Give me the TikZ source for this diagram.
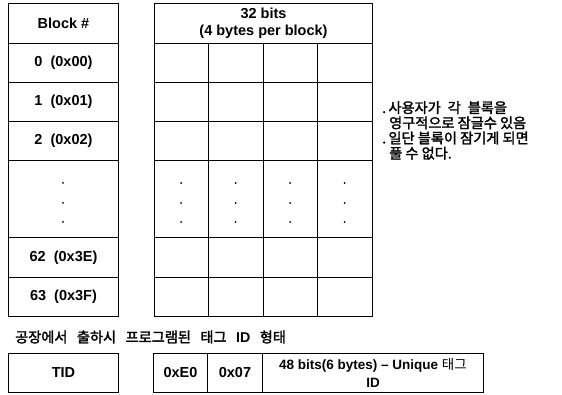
\documentclass[tikz,border=0pt]{standalone}
\usepackage{fontspec}
\setmainfont{Liberation Sans}
\newfontfamily\kr[AutoFakeBold=2]{Noto Sans CJK KR}
\begin{document}
\begin{tikzpicture}[x=1pt,y=-1pt,
  cell/.style={draw=black,line width=1pt,rectangle,inner sep=0pt,anchor=north west,
    font=\fontsize{14.5}{17}\selectfont\bfseries,align=center},
  dotc/.style={circle,fill=black,inner sep=0pt,minimum size=2pt},
  krtext/.style={font=\kr\bfseries\fontsize{14.2}{15.2}\selectfont,inner sep=0pt}]
\useasboundingbox (0,0) rectangle (562,395);
% left column
\node[cell,minimum width=110pt,minimum height=40pt] (bh) at (8,3) {Block \#};
\node[cell,minimum width=110pt,minimum height=39pt] (b0) at (8,43) {0\ \ (0x00)};
\node[cell,minimum width=110pt,minimum height=39pt] (b1) at (8,82) {1\ \ (0x01)};
\node[cell,minimum width=110pt,minimum height=39pt] (b2) at (8,121) {2\ \ (0x02)};
\node[cell,minimum width=110pt,minimum height=77pt] (bd) at (8,160) {};
\node[cell,minimum width=110pt,minimum height=40pt] (b62) at (8,237) {62\ \ (0x3E)};
\node[cell,minimum width=110pt,minimum height=39pt] (b63) at (8,277) {63\ \ (0x3F)};
\foreach \yy in {183,203,222} \node[dotc] at (63,\yy) {};
% right grid
\node[cell,minimum width=218pt,minimum height=40pt] (gh) at (154,3) {32 bits\\(4 bytes per block)};
\foreach \r/\y/\h in {0/43/39,1/82/39,2/121/39,d/160/77,62/237/40,63/277/39}{
  \foreach \c/\x/\w in {1/154/54,2/208/55,3/263/54,4/317/55}{
    \node[cell,minimum width=\w pt,minimum height=\h pt] (g\r-\c) at (\x,\y) {};
  }
}
\foreach \x in {181,235.5,290,344.5}
  \foreach \yy in {183,203,222} \node[dotc] at (\x,\yy) {};
% notes
\node[krtext,anchor=north west,align=left] (note) at (382,101)
  {\spaceskip=7pt .\,사용자가 각 블록을\\\hspace{7pt}영구적으로 잠글수 있음\\.\,일단 블록이 잠기게 되면\\\hspace{7pt}풀 수 없다.};
% caption
\node[krtext,anchor=west] (cap) at (15,337) {\spaceskip=9.5pt 공장에서 출하시 프로그램된 태그 {\rmfamily\bfseries ID} 형태};
% bottom
\node[cell,minimum width=110pt,minimum height=39pt] (tid) at (8,353) {TID};
\node[cell,minimum width=54pt,minimum height=39pt] (e0) at (153,353) {0xE0};
\node[cell,minimum width=55pt,minimum height=39pt] (o7) at (207,353) {0x07};
\node[cell,minimum width=221pt,minimum height=39pt,font=\fontsize{13.5}{18}\selectfont\bfseries] (uid) at (262,353) {48 bits(6 bytes) – Unique {\kr\mdseries 태그}\\ID};
\end{tikzpicture}
\end{document}
